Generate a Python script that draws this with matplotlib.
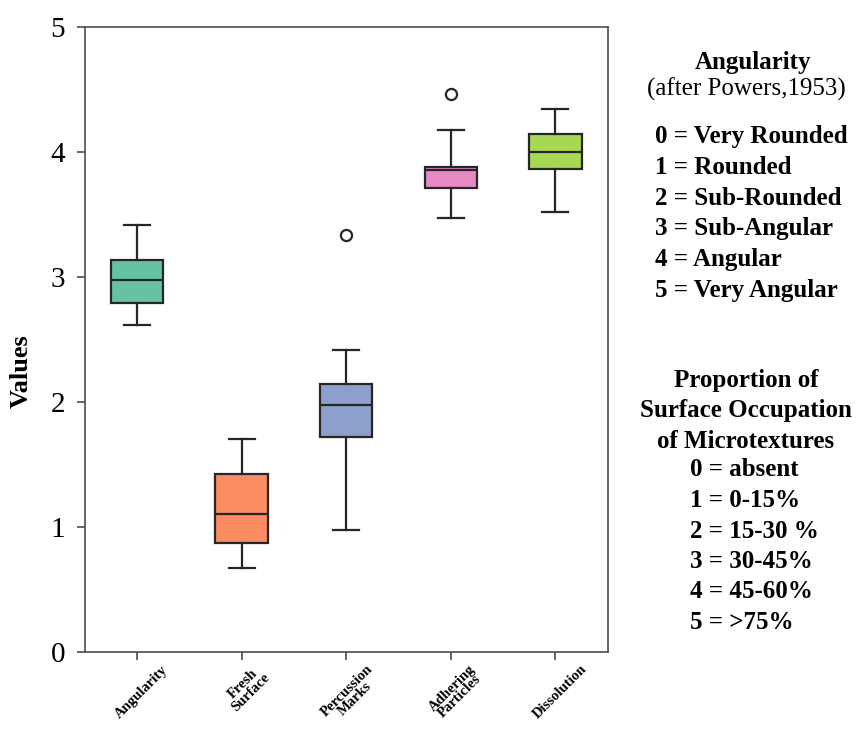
import matplotlib
matplotlib.use("Agg")
import matplotlib.pyplot as plt
import matplotlib.transforms as mtransforms

plt.rcParams['font.family'] = ['Liberation Serif', 'DejaVu Serif']

# categories and box statistics
categories = ['Angularity', 'Fresh\nSurface', 'Percussion\nMarks', 'Adhering\nParticles', 'Dissolution']
whisker_low = [2.61, 0.67, 0.97, 3.47, 3.52]
q1 = [2.79, 0.87, 1.72, 3.71, 3.86]
median = [2.97, 1.10, 1.97, 3.85, 4.00]
q3 = [3.13, 1.42, 2.14, 3.88, 4.14]
whisker_high = [3.41, 1.70, 2.41, 4.17, 4.34]
outliers = [[], [], [3.33], [4.46], []]
colors = ['#66c2a5', '#fc8d62', '#8da0cb', '#e78ac3', '#a6d854']

angularity_lines = ['0 = Very Rounded', '1 = Rounded', '2 = Sub-Rounded',
                    '3 = Sub-Angular', '4 = Angular', '5 = Very Angular']
proportion_lines = ['0 = absent', '1 = 0-15%', '2 = 15-30 %',
                    '3 = 30-45%', '4 = 45-60%', '5 = >75%']

W, H = 858, 730
fig = plt.figure(figsize=(W / 100, H / 100), dpi=100)
ax = fig.add_axes([84.7 / W, 1 - 651.7 / H, (607.7 - 84.7) / W, (651.7 - 26.7) / H])

stats = []
for i in range(len(categories)):
    stats.append(dict(whislo=whisker_low[i], q1=q1[i], med=median[i], q3=q3[i],
                      whishi=whisker_high[i], fliers=outliers[i]))

edge = '0.15'
bp = ax.bxp(stats, positions=range(1, len(categories) + 1), widths=0.5,
            patch_artist=True,
            boxprops=dict(edgecolor=edge, linewidth=1.6),
            medianprops=dict(color=edge, linewidth=1.6),
            whiskerprops=dict(color=edge, linewidth=1.6),
            capprops=dict(color=edge, linewidth=1.6),
            flierprops=dict(marker='o', markerfacecolor='none', markeredgecolor=edge,
                            markersize=8, markeredgewidth=1.6))
for patch, c in zip(bp['boxes'], colors):
    patch.set_facecolor(c)

ax.set_xlim(0.5, 5.5)
ax.set_ylim(0, 5)
ax.set_yticks([0, 1, 2, 3, 4, 5])
ax.tick_params(axis='y', labelsize=21, length=6, width=1.2, color='0.3', pad=8)
ax.tick_params(axis='x', length=6, width=1.2, color='0.3', pad=2)
ax.set_xticks(range(1, len(categories) + 1))
ax.set_xticklabels(categories, rotation=45, fontsize=10.5, fontweight='bold',
                   ha='center', va='top', linespacing=0.8)
shift = mtransforms.ScaledTranslation(5 / 100, 0, fig.dpi_scale_trans)
for lab in ax.get_xticklabels():
    lab.set_transform(lab.get_transform() + shift)
for s in ax.spines.values():
    s.set_linewidth(1.2)
    s.set_color('0.3')
ax.set_ylabel('Values', fontsize=19, fontweight='bold')
ax.yaxis.set_label_coords(-0.1, (651.7 - 371) / 625)

# side notes
def px(x, y):
    return x / W, 1 - y / H

fs = 18
fig.text(*px(753, 62), 'Angularity', fontsize=fs, fontweight='bold', ha='center', va='center')
fig.text(*px(746, 89), '(after Powers,1953)', fontsize=fs, ha='center', va='center')
for k, line in enumerate(angularity_lines):
    fig.text(*px(655, 137 + 30.6 * k), line, fontsize=fs, fontweight='bold', ha='left', va='center')

for k, line in enumerate(['Proportion of', 'Surface Occupation', 'of Microtextures']):
    fig.text(*px(746, 381 + 30 * k), line, fontsize=fs, fontweight='bold', ha='center', va='center')
for k, line in enumerate(proportion_lines):
    fig.text(*px(690, 470 + 30.5 * k), line, fontsize=fs, fontweight='bold', ha='left', va='center')

fig.savefig('out.png', dpi=100)
